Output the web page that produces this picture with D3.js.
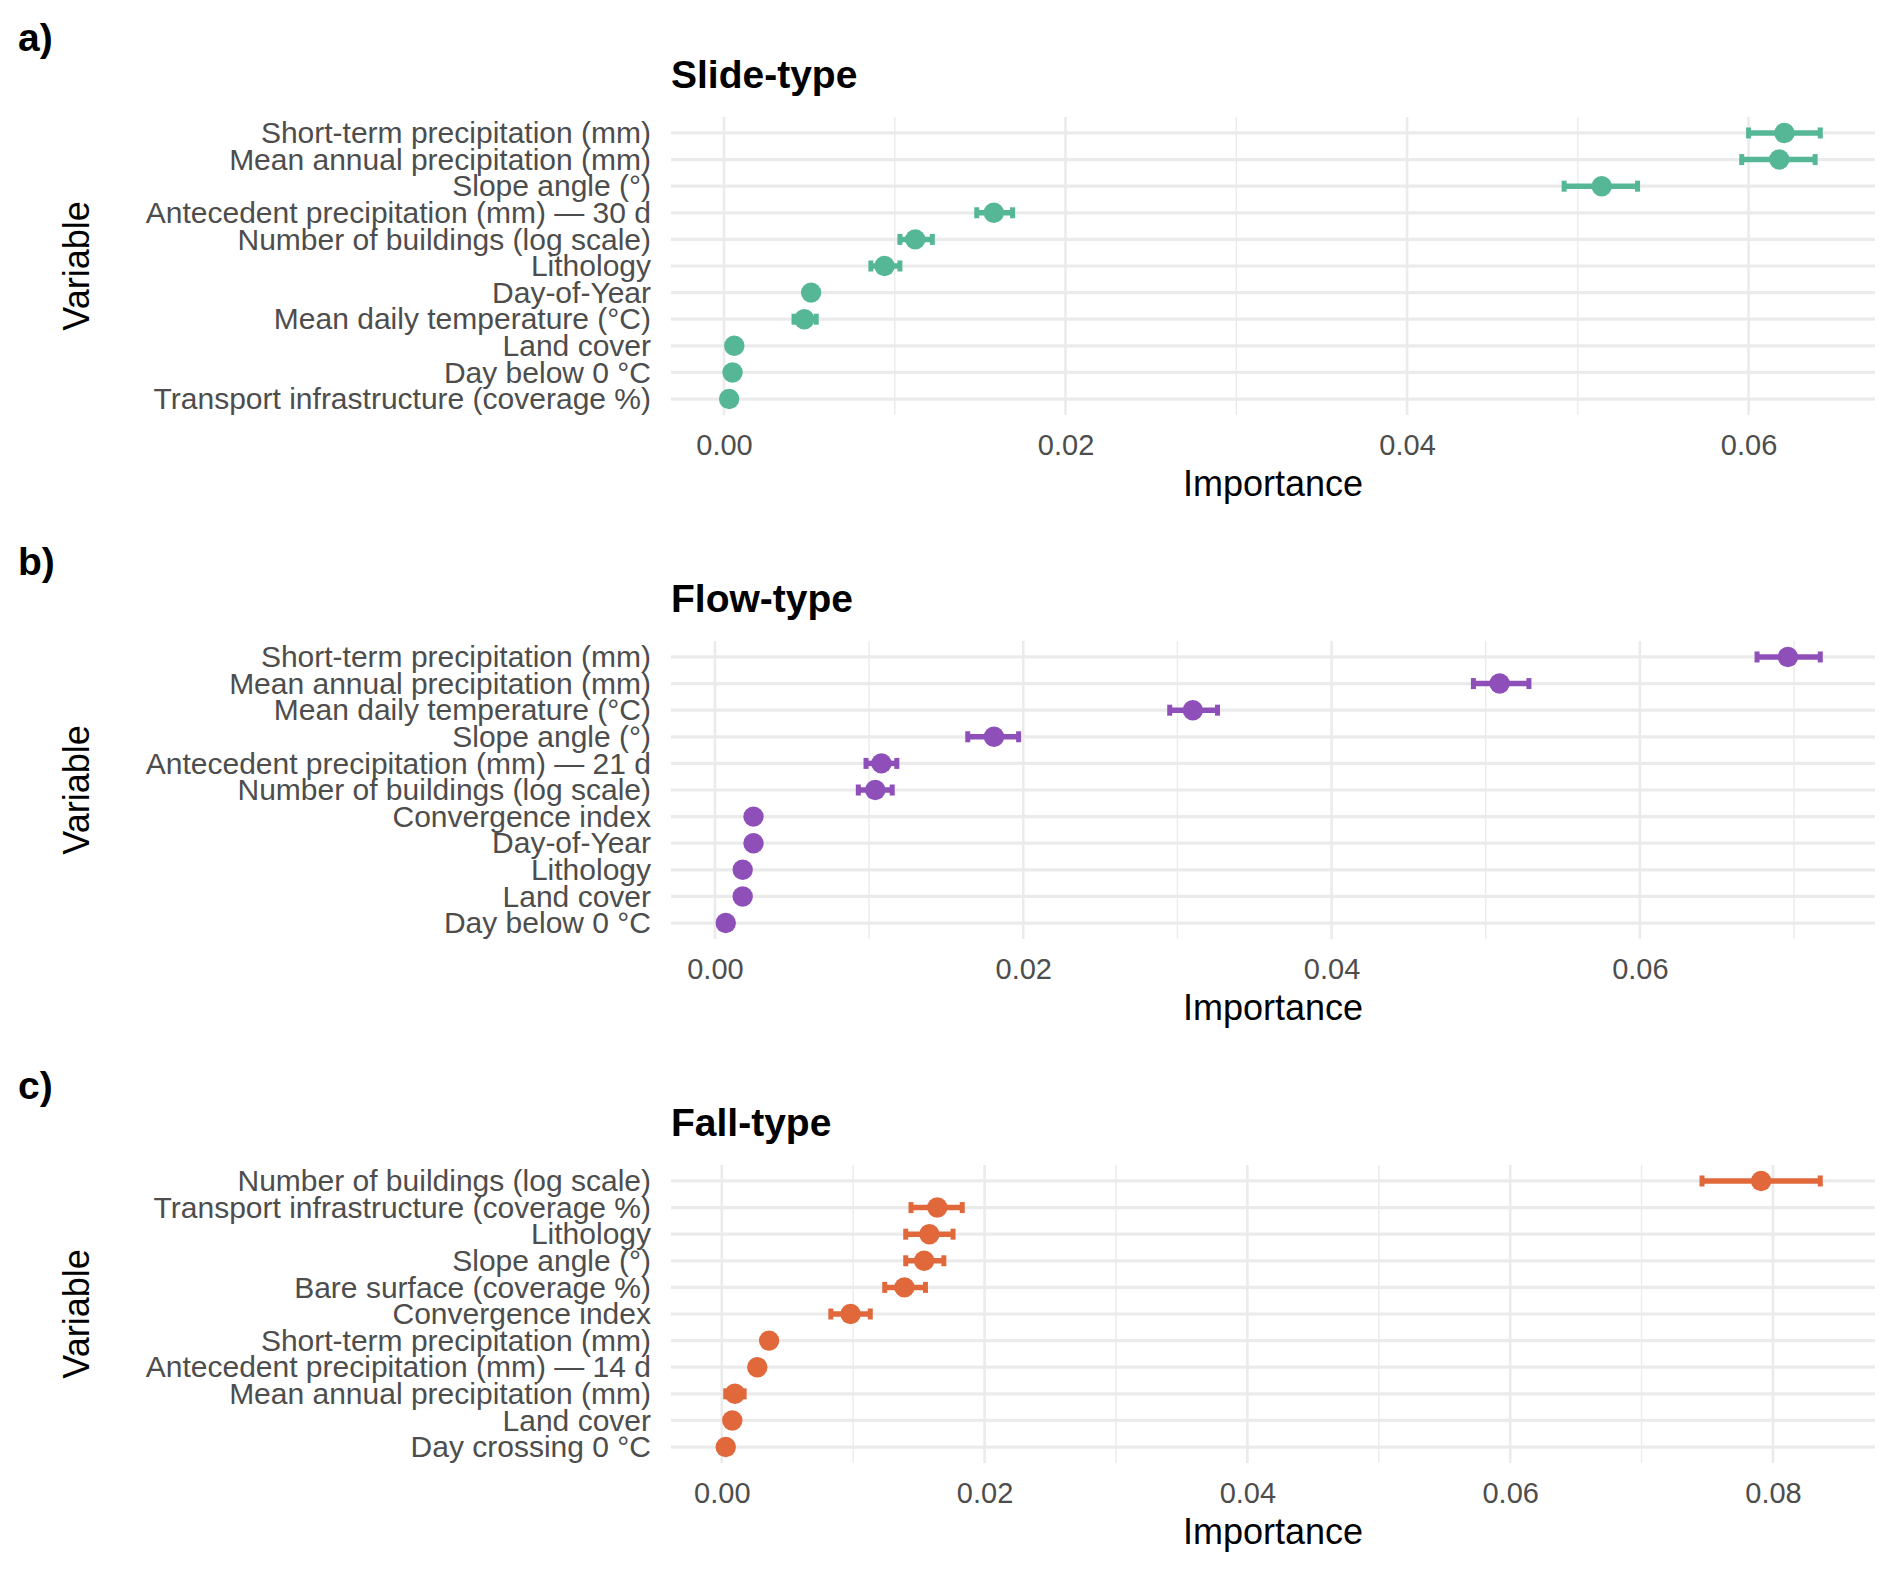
<!DOCTYPE html>
<html>
<head>
<meta charset="utf-8">
<script src="https://cdn.jsdelivr.net/npm/d3@7"></script>
<style>
  body { margin: 0; background: #fff; }
  svg { display: block; }
  text { font-family: "Liberation Sans", Arial, Helvetica, sans-serif; }
</style>
</head>
<body>
<div id="chart"></div>
<script>
"use strict";

// a) Slide-type
const slideNames = ["Short-term precipitation (mm)", "Mean annual precipitation (mm)", "Slope angle (°)",
  "Antecedent precipitation (mm) — 30 d", "Number of buildings (log scale)", "Lithology", "Day-of-Year",
  "Mean daily temperature (°C)", "Land cover", "Day below 0 °C", "Transport infrastructure (coverage %)"];
const slideValues = [0.0621, 0.0618, 0.0514, 0.0158, 0.0112, 0.0094, 0.0051, 0.0047, 0.0006, 0.0005, 0.0003];
const slideLower  = [0.0600, 0.0596, 0.0492, 0.0148, 0.0103, 0.0086, 0.0049, 0.0041, 0.0005, 0.0004, 0.0001];
const slideUpper  = [0.0642, 0.0639, 0.0535, 0.0169, 0.0122, 0.0103, 0.0053, 0.0054, 0.0007, 0.0006, 0.0005];

// b) Flow-type
const flowNames = ["Short-term precipitation (mm)", "Mean annual precipitation (mm)", "Mean daily temperature (°C)",
  "Slope angle (°)", "Antecedent precipitation (mm) — 21 d", "Number of buildings (log scale)", "Convergence index",
  "Day-of-Year", "Lithology", "Land cover", "Day below 0 °C"];
const flowValues = [0.0696, 0.0509, 0.0310, 0.0181, 0.0108, 0.0104, 0.0025, 0.0025, 0.0018, 0.0018, 0.0007];
const flowLower  = [0.0676, 0.0492, 0.0295, 0.0164, 0.0098, 0.0093, 0.0024, 0.0024, 0.0017, 0.0017, 0.0007];
const flowUpper  = [0.0717, 0.0528, 0.0326, 0.0197, 0.0118, 0.0115, 0.0026, 0.0026, 0.0019, 0.0019, 0.0008];

// c) Fall-type
const fallNames = ["Number of buildings (log scale)", "Transport infrastructure (coverage %)", "Lithology",
  "Slope angle (°)", "Bare surface (coverage %)", "Convergence index", "Short-term precipitation (mm)",
  "Antecedent precipitation (mm) — 14 d", "Mean annual precipitation (mm)", "Land cover", "Day crossing 0 °C"];
const fallValues = [0.0791, 0.0164, 0.0158, 0.0154, 0.0139, 0.0098, 0.0036, 0.0027, 0.0010, 0.0008, 0.0003];
const fallLower  = [0.0746, 0.0144, 0.0140, 0.0140, 0.0124, 0.0083, 0.0035, 0.0026, 0.0003, 0.0007, 0.0003];
const fallUpper  = [0.0836, 0.0183, 0.0176, 0.0169, 0.0155, 0.0113, 0.0037, 0.0028, 0.0017, 0.0009, 0.0004];

const panelTags = ["a)", "b)", "c)"];
const panelTitles = ["Slide-type", "Flow-type", "Fall-type"];
const panelColors = ["#55b795", "#8e4fb9", "#e1683b"];

let panels = [
  { names: slideNames, values: slideValues, lower: slideLower, upper: slideUpper },
  { names: flowNames, values: flowValues, lower: flowLower, upper: flowUpper },
  { names: fallNames, values: fallValues, lower: fallLower, upper: fallUpper }
];

let chartWidth = 1892;
let chartHeight = 1573;
let panelStep = 524;
let plotLeft = 671, plotRight = 1875, plotTop = 117, plotBottom = 415;

let svg = d3.select("#chart").append("svg")
  .attr("width", chartWidth)
  .attr("height", chartHeight);

panels.forEach(function(p, i) {
  drawPanel(p, i);
});

function drawPanel(p, i) {
  let g = svg.append("g").attr("transform", "translate(0," + (i * panelStep) + ")");
  let color = panelColors[i];

  // ggplot-style 5% expansion
  let lo = d3.min(p.lower), hi = d3.max(p.upper);
  let pad = (hi - lo) * 0.05;
  let x = d3.scaleLinear().domain([lo - pad, hi + pad]).range([plotLeft, plotRight]);
  let y = d3.scalePoint().domain(p.names).range([plotTop, plotBottom]).padding(0.6);

  let major = x.ticks(4);
  let minor = x.ticks(8).filter(function(t) {
    return !major.some(function(m) { return Math.abs(m - t) < 1e-9; });
  });

  // grid
  g.selectAll(".minor").data(minor).enter().append("line")
    .attr("x1", d => x(d)).attr("x2", d => x(d))
    .attr("y1", plotTop).attr("y2", plotBottom)
    .attr("stroke", "#ebebeb").attr("stroke-width", 1.4);
  g.selectAll(".major").data(major).enter().append("line")
    .attr("x1", d => x(d)).attr("x2", d => x(d))
    .attr("y1", plotTop).attr("y2", plotBottom)
    .attr("stroke", "#ebebeb").attr("stroke-width", 2.6);
  g.selectAll(".hgrid").data(p.names).enter().append("line")
    .attr("x1", plotLeft).attr("x2", plotRight)
    .attr("y1", d => y(d)).attr("y2", d => y(d))
    .attr("stroke", "#ebebeb").attr("stroke-width", 3.2);

  // axes
  let xAxis = g.append("g")
    .attr("transform", "translate(0," + plotBottom + ")")
    .call(d3.axisBottom(x).tickValues(major).tickSize(0).tickPadding(19).tickFormat(d3.format(".2f")));
  xAxis.select(".domain").remove();
  xAxis.selectAll("text")
    .attr("font-size", 29).attr("fill", "#4d4d4d")
    .style("font-family", "'Liberation Sans', Arial, sans-serif");

  let yAxis = g.append("g")
    .attr("transform", "translate(" + plotLeft + ",0)")
    .call(d3.axisLeft(y).tickSize(0).tickPadding(20));
  yAxis.select(".domain").remove();
  yAxis.selectAll("text")
    .attr("font-size", 30).attr("fill", "#4d4d4d")
    .style("font-family", "'Liberation Sans', Arial, sans-serif");

  // error bars
  let rows = p.names.map(function(n, k) {
    return { name: n, value: p.values[k], lo: p.lower[k], hi: p.upper[k] };
  });
  let bars = g.selectAll(".err").data(rows).enter().append("g");
  bars.append("line")
    .attr("x1", d => x(d.lo)).attr("x2", d => x(d.hi))
    .attr("y1", d => y(d.name)).attr("y2", d => y(d.name))
    .attr("stroke", color).attr("stroke-width", 5.5);
  bars.append("line")
    .attr("x1", d => x(d.lo)).attr("x2", d => x(d.lo))
    .attr("y1", d => y(d.name) - 5.5).attr("y2", d => y(d.name) + 5.5)
    .attr("stroke", color).attr("stroke-width", 5);
  bars.append("line")
    .attr("x1", d => x(d.hi)).attr("x2", d => x(d.hi))
    .attr("y1", d => y(d.name) - 5.5).attr("y2", d => y(d.name) + 5.5)
    .attr("stroke", color).attr("stroke-width", 5);

  // points
  g.selectAll(".pt").data(rows).enter().append("circle")
    .attr("cx", d => x(d.value))
    .attr("cy", d => y(d.name))
    .attr("r", 10.2)
    .attr("fill", color);

  // titles and labels
  g.append("text")
    .attr("x", 18).attr("y", 51)
    .attr("font-size", 39).attr("font-weight", "bold")
    .text(panelTags[i]);
  g.append("text")
    .attr("x", 671).attr("y", 88)
    .attr("font-size", 39).attr("font-weight", "bold")
    .text(panelTitles[i]);
  g.append("text")
    .attr("x", (plotLeft + plotRight) / 2).attr("y", 496)
    .attr("text-anchor", "middle")
    .attr("font-size", 36)
    .text("Importance");
  g.append("text")
    .attr("transform", "translate(89," + ((plotTop + plotBottom) / 2) + ") rotate(-90)")
    .attr("text-anchor", "middle")
    .attr("font-size", 36)
    .text("Variable");
}
</script>
</body>
</html>
